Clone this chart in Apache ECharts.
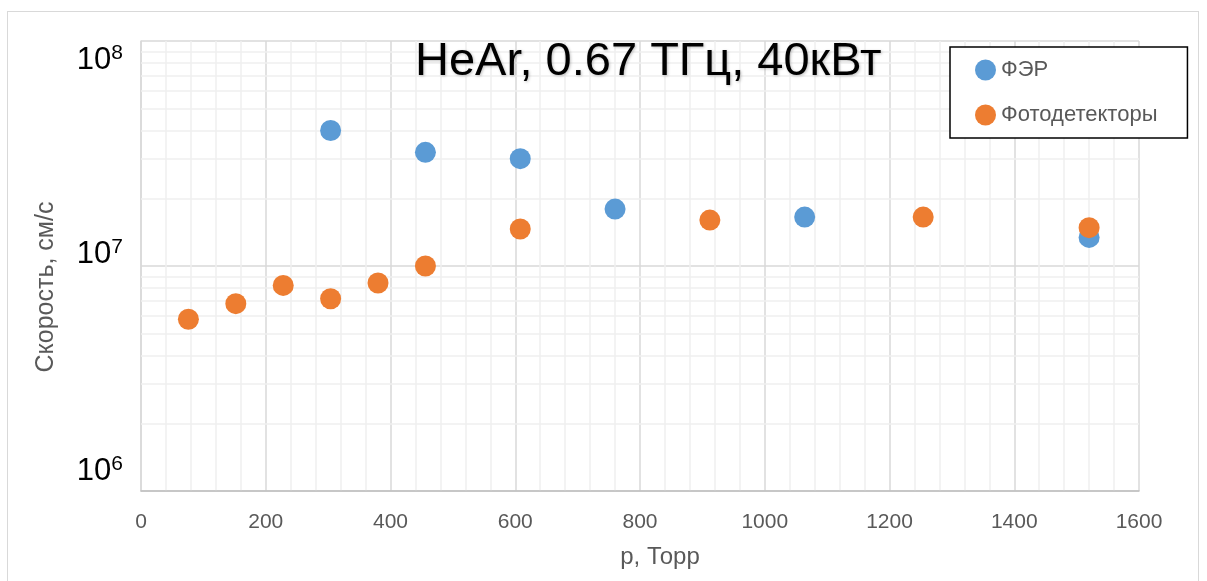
<!DOCTYPE html>
<html>
<head>
<meta charset="utf-8">
<script src="https://cdn.jsdelivr.net/npm/echarts@6/dist/echarts.min.js"></script>
<style>
html,body{margin:0;padding:0;background:#fff;width:1207px;height:581px;overflow:hidden;}
#frame{position:absolute;left:7px;top:11px;width:1192px;height:700px;border:1px solid #d9d9d9;box-sizing:border-box;}
#main{position:absolute;left:0;top:0;width:1207px;height:581px;}
</style>
</head>
<body>
<div id="frame"></div>
<div id="main"></div>
<script>
// ---- data ----
const seriesNames = ['ФЭР', 'Фотодетекторы'];
const ferX = [304, 456, 608, 760, 1064, 1520];
const ferY = [4.0e7, 3.2e7, 3.0e7, 1.79e7, 1.65e7, 1.34e7];
const photoX = [76, 152, 228, 304, 380, 456, 608, 912, 1254, 1520];
const photoY = [5.8e6, 6.8e6, 8.2e6, 7.15e6, 8.4e6, 1.0e7, 1.46e7, 1.6e7, 1.65e7, 1.48e7];
const xTicks = [0, 200, 400, 600, 800, 1000, 1200, 1400, 1600];
const yTickExponents = [6, 7, 8];
const minorYGrid = [2e6,3e6,4e6,5e6,6e6,7e6,8e6,9e6,2e7,3e7,4e7,5e7,6e7,7e7,8e7,9e7];
const titleText = 'HeAr, 0.67 ТГц, 40кВт';
const xName = 'р, Торр';
const yName = 'Скорость, см/с';

const FONT = "'Liberation Sans', Arial, sans-serif";
const pairs = (xs, ys) => xs.map((x, i) => [x, ys[i]]);

const chart = echarts.init(document.getElementById('main'), null, {renderer: 'canvas'});

const rich = {};
// vertical offsets of the power labels (as in the reference)
const padTop = {8: 38, 7: 0, 6: 0};
const padBot = {8: 0, 7: 23, 6: 39};
yTickExponents.forEach(e => {
  rich['b' + e] = {fontSize: 31, lineHeight: 34, color: '#000', fontFamily: FONT,
    padding: [padTop[e], 0, padBot[e], 0]};
  rich['s' + e] = {fontSize: 21, lineHeight: 20, color: '#000', fontFamily: FONT,
    padding: [padTop[e], 0, padBot[e] + 14, 0]};
});

chart.setOption({
  animation: false,
  backgroundColor: 'transparent',
  title: {
    text: titleText,
    left: 410,
    top: 34,
    textStyle: {fontFamily: FONT, fontSize: 47, fontWeight: 'normal', color: '#000',
      textShadowColor: 'rgba(0,0,0,0.25)', textShadowBlur: 3, textShadowOffsetX: 1, textShadowOffsetY: 1}
  },
  legend: {
    data: seriesNames,
    orient: 'vertical',
    left: 950,
    top: 47,
    padding: [12, 30, 12, 25],
    itemGap: 23,
    itemWidth: 21,
    itemHeight: 21,
    icon: 'circle',
    borderColor: '#000',
    borderWidth: 1.5,
    backgroundColor: '#fff',
    z: 10,
    textStyle: {fontFamily: FONT, fontSize: 22, color: '#595959'}
  },
  grid: {left: 141, right: 68, top: 41, bottom: 90, containLabel: false},
  xAxis: {
    type: 'value',
    min: xTicks[0],
    max: xTicks[xTicks.length - 1],
    interval: xTicks[1] - xTicks[0],
    name: xName,
    nameLocation: 'middle',
    nameGap: 54,
    nameTextStyle: {fontFamily: FONT, fontSize: 24, color: '#595959', padding: [0, 0, 0, 40]},
    axisLine: {show: true, lineStyle: {color: '#bfbfbf', width: 1.5}},
    axisTick: {show: false},
    axisLabel: {fontFamily: FONT, fontSize: 21, color: '#595959', margin: 21,
      formatter: v => String(v)},
    splitLine: {show: true, lineStyle: {color: '#d9d9d9', width: 1.5}},
    minorTick: {show: false, splitNumber: 5},
    minorSplitLine: {show: true, lineStyle: {color: '#efefef', width: 1.5}}
  },
  yAxis: {
    type: 'log',
    logBase: 10,
    min: Math.pow(10, yTickExponents[0]),
    max: Math.pow(10, yTickExponents[yTickExponents.length - 1]),
    interval: 1,
    name: yName,
    nameLocation: 'middle',
    nameGap: 82,
    nameTextStyle: {fontFamily: FONT, fontSize: 25, color: '#595959', padding: [0, 42, 0, 0]},
    axisLine: {show: true, lineStyle: {color: '#d9d9d9', width: 1.5}},
    axisTick: {show: false},
    axisLabel: {
      margin: 18,
      formatter: function (v) {
        const e = Math.round(Math.log10(v));
        return '{b' + e + '|10}{s' + e + '|' + e + '}';
      },
      rich: rich
    },
    splitLine: {show: true, lineStyle: {color: '#d9d9d9', width: 1.5}}
  },
  series: [
    {
      name: 'minor-grid',
      type: 'scatter',
      data: [],
      z: 1,
      silent: true,
      markLine: {
        silent: true,
        z: 1,
        symbol: 'none',
        label: {show: false},
        animation: false,
        lineStyle: {color: '#efefef', width: 1.5, type: 'solid'},
        emphasis: {disabled: true},
        data: minorYGrid.map(v => ({yAxis: v}))
      }
    },
    {
      name: seriesNames[0],
      type: 'scatter',
      z: 3,
      symbol: 'circle',
      symbolSize: 21,
      itemStyle: {color: '#5b9bd5', opacity: 1},
      data: pairs(ferX, ferY)
    },
    {
      name: seriesNames[1],
      type: 'scatter',
      z: 3,
      symbol: 'circle',
      symbolSize: 21,
      itemStyle: {color: '#ed7d31', opacity: 1},
      data: pairs(photoX, photoY)
    }
  ]
});
</script>
</body>
</html>
